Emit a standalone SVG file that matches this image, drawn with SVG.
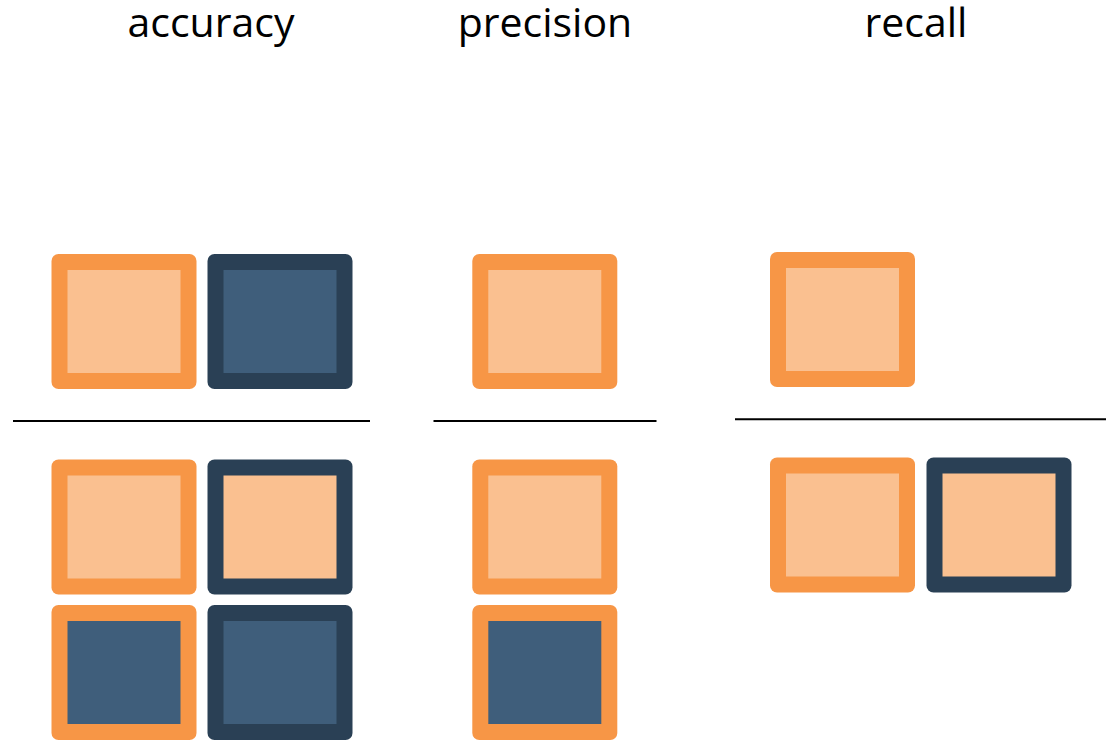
<svg xmlns="http://www.w3.org/2000/svg" width="1106" height="741" viewBox="0 0 1106 741">
<style>
.t{font-family:"Open Sans","Liberation Sans",sans-serif;font-size:41px;fill:#000;text-anchor:middle}
.ob{fill:#F79646}
.db{fill:#2A4055}
.lf{fill:#FAC090}
.df{fill:#3F5E7B}
.ln{stroke:#000;stroke-width:2}
</style>
<defs>
<rect id="outer" x="0" y="0" width="145" height="135" rx="7"/>
<rect id="inner" x="16" y="16" width="113" height="103"/>
<g id="oo"><use href="#outer" class="ob"/><use href="#inner" class="lf"/></g>
<g id="dd"><use href="#outer" class="db"/><use href="#inner" class="df"/></g>
<g id="od"><use href="#outer" class="ob"/><use href="#inner" class="df"/></g>
<g id="do"><use href="#outer" class="db"/><use href="#inner" class="lf"/></g>
</defs>
<g id="titles">
<text class="t" x="211" y="37">accuracy</text>
<text class="t" x="545" y="37">precision</text>
<text class="t" x="916" y="37">recall</text>
</g>
<g id="accuracy">
<use href="#oo" x="51.5" y="254"/>
<use href="#dd" x="207.5" y="254"/>
<use href="#oo" x="51.5" y="459.5"/>
<use href="#do" x="207.5" y="459.5"/>
<use href="#od" x="51.5" y="605"/>
<use href="#dd" x="207.5" y="605"/>
</g>
<g id="precision">
<use href="#oo" x="472.3" y="254"/>
<use href="#oo" x="472.3" y="459.5"/>
<use href="#od" x="472.3" y="605"/>
</g>
<g id="recall">
<use href="#oo" x="770" y="252"/>
<use href="#oo" x="770" y="457.5"/>
<use href="#do" x="926.5" y="457.5"/>
</g>
<g id="connectors">
<line class="ln" x1="13" y1="421" x2="370" y2="421"/>
<line class="ln" x1="433.5" y1="421" x2="656.5" y2="421"/>
<line class="ln" x1="735" y1="419.3" x2="1106" y2="419.3"/>
</g>
</svg>
